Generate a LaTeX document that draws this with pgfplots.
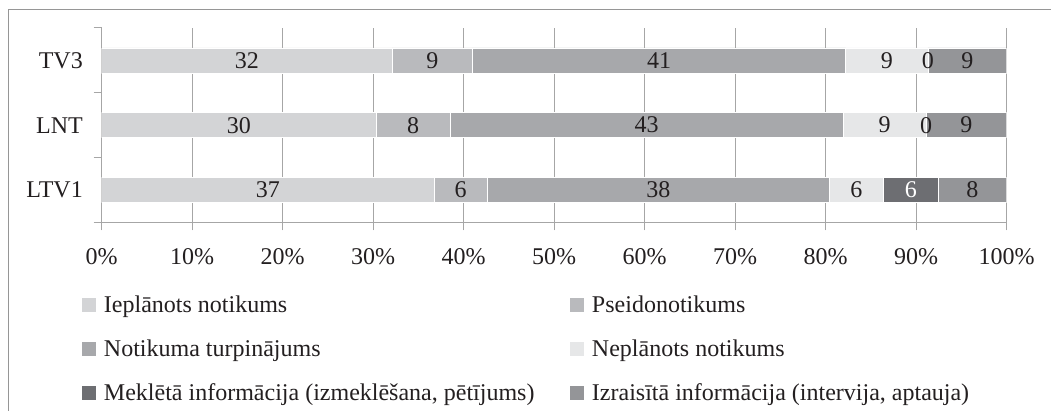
\documentclass[border=0pt]{standalone}
\usepackage{fontspec}
\setmainfont{Liberation Serif}
\usepackage{pgfplots}
\usepackage{pgfplotstable}
\pgfplotsset{compat=1.18}
\definecolor{cA}{RGB}{211,212,214}
\definecolor{cB}{RGB}{185,186,189}
\definecolor{cC}{RGB}{167,168,171}
\definecolor{cD}{RGB}{230,231,232}
\definecolor{cE}{RGB}{109,110,114}
\definecolor{cF}{RGB}{148,149,152}
\definecolor{gridc}{RGB}{166,166,166}
\definecolor{framec}{RGB}{150,150,150}
\definecolor{textc}{RGB}{35,31,32}
\newcommand{\fs}{\fontsize{24}{28}\selectfont}

% y: 0 = LTV1, 1 = LNT, 2 = TV3 ; values in percent
\pgfplotstableread{
y   A     B    C     D    E    F
0   36.7  5.9  37.8  6.0  6.0  7.6
1   30.3  8.2  43.4  9.2  0.0  8.9
2   32.1  8.9  41.2  9.1  0.0  8.7
}\datatable

\pgfplotstableread{
x      y  label
16.05  2  32
36.55  2  9
61.6   2  41
86.75  2  9
91.3   2  0
95.65  2  9
15.15  1  30
34.4   1  8
60.2   1  43
86.5   1  9
91.1   1  0
95.55  1  9
18.35  0  37
39.65  0  6
61.5   0  38
83.4   0  6
96.2   0  8
}\labeltable

\pgfplotstableread{
x      y  label
89.4   0  6
}\whitelabeltable

\begin{document}
\begin{tikzpicture}
\useasboundingbox (0pt,0pt) rectangle (1051pt,411pt);
\fill[white] (0pt,0pt) rectangle (1051pt,411pt);
\draw[framec, line width=1pt] (8pt,0pt) -- (8pt,401pt) -- (1051pt,401pt);
\begin{axis}[
  at={(101.7pt,188.7pt)}, anchor=south west,
  scale only axis, width=905pt, height=194.3pt,
  xbar stacked, bar width=25pt,
  xmin=0, xmax=100, ymin=-0.5, ymax=2.5,
  axis x line*=bottom, axis y line*=left,
  axis line style={gridc, line width=1pt},
  xtick={0,10,...,100},
  xticklabels={0\%,10\%,20\%,30\%,40\%,50\%,60\%,70\%,80\%,90\%,100\%},
  xmajorgrids, grid style={gridc, line width=1pt},
  tick align=outside, major tick length=8pt,
  tick style={gridc, line width=1pt},
  xticklabel style={font=\fs, text=textc, inner sep=0pt, yshift=-18pt},
  ytick={-0.5,0.5,1.5,2.5}, yticklabels={},
  extra y ticks={0,1,2}, extra y tick labels={LTV1,LNT,TV3},
  extra y tick style={major tick length=0pt, grid=none,
     yticklabel style={font=\fs, text=textc, inner sep=0pt, xshift=-18.7pt}},
  legend columns=2,
  legend image code/.code={\fill[#1,draw=none] (0pt,0pt) rectangle (14pt,14pt);},
  legend style={draw=none, fill=none, inner sep=0pt, outer sep=0pt,
     at={(-0.02177,-0.3742)}, anchor=north west,
     font=\fs, text=textc,
     column sep=8pt, row sep=22pt,
     cells={anchor=base west},
     nodes={inner sep=0pt, text height=17pt, text depth=5pt}},
]
\addplot[fill=cA, draw=white, line width=0.6pt] table[x=A, y=y] {\datatable};
\addlegendentry{\makebox[458pt][l]{Ieplānots notikums}}
\addplot[fill=cB, draw=white, line width=0.6pt] table[x=B, y=y] {\datatable};
\addlegendentry{Pseidonotikums}
\addplot[fill=cC, draw=white, line width=0.6pt] table[x=C, y=y] {\datatable};
\addlegendentry{\makebox[458pt][l]{Notikuma turpinājums}}
\addplot[fill=cD, draw=white, line width=0.6pt] table[x=D, y=y] {\datatable};
\addlegendentry{Neplānots notikums}
\addplot[fill=cE, draw=white, line width=0.6pt] table[x=E, y=y] {\datatable};
\addlegendentry{\makebox[458pt][l]{Meklētā informācija (izmeklēšana, pētījums)}}
\addplot[fill=cF, draw=white, line width=0.6pt] table[x=F, y=y] {\datatable};
\addlegendentry{Izraisītā informācija (intervija, aptauja)}
\end{axis}
\begin{axis}[
  at={(101.7pt,188.7pt)}, anchor=south west,
  scale only axis, width=905pt, height=194.3pt,
  xmin=0, xmax=100, ymin=-0.5, ymax=2.5,
  hide axis, clip=false,
]
\addplot[draw=none, mark=none, nodes near coords, point meta=explicit symbolic,
  every node near coord/.style={anchor=center, inner sep=0pt, font=\fs, text=textc}]
  table[x=x, y=y, meta=label] {\labeltable};
\addplot[draw=none, mark=none, nodes near coords, point meta=explicit symbolic,
  every node near coord/.style={anchor=center, inner sep=0pt, font=\fs, text=white}]
  table[x=x, y=y, meta=label] {\whitelabeltable};
\end{axis}
\end{tikzpicture}
\end{document}
